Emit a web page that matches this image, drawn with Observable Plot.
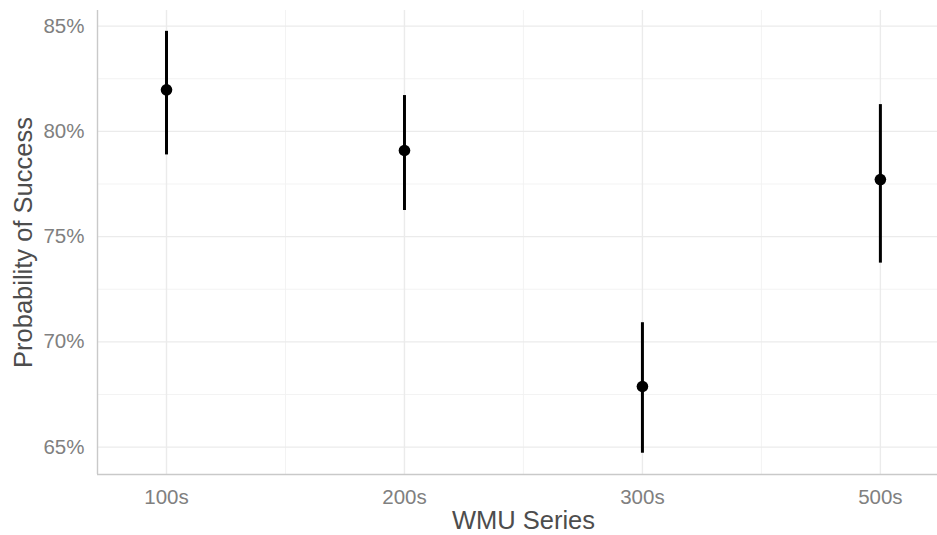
<!DOCTYPE html>
<html>
<head>
<meta charset="utf-8">
<script src="https://cdn.jsdelivr.net/npm/d3@7"></script>
<script src="https://cdn.jsdelivr.net/npm/@observablehq/plot@0.6"></script>
<style>
  html, body { margin: 0; padding: 0; background: #fff; }
  #chart svg { display: block; }
</style>
</head>
<body>
<div id="chart"></div>
<script>
// Data
const categories = ["100s", "200s", "300s", "500s"];
const estimate = [81.97, 79.09, 67.88, 77.71];
const lower = [78.88, 76.24, 64.71, 73.74];
const upper = [84.75, 81.70, 70.91, 81.27];
const yTicks = [65, 70, 75, 80, 85];
const yMinor = [67.5, 72.5, 77.5, 82.5];
const xTicks = [0, 1, 2, 3];
const xMinor = [0.5, 1.5, 2.5];
const xDomain = [-0.29, 3.24];
const yDomain = [63.70, 85.74];

const data = categories.map((c, i) => ({i, cat: c, est: estimate[i], lo: lower[i], hi: upper[i]}));

const font = "Liberation Sans, Arial, sans-serif";

const chart = Plot.plot({
  width: 937,
  height: 535,
  marginLeft: 97,
  marginRight: 0,
  marginTop: 10,
  marginBottom: 61,
  style: {fontFamily: font, background: "#fff"},
  x: {type: "linear", domain: xDomain, axis: null},
  y: {domain: yDomain, axis: null},
  marks: [
    Plot.gridY(yMinor, {stroke: "#f2f2f2", strokeOpacity: 1, strokeWidth: 0.9}),
    Plot.gridX(xMinor, {stroke: "#f2f2f2", strokeOpacity: 1, strokeWidth: 0.9}),
    Plot.gridY(yTicks, {stroke: "#ebebeb", strokeOpacity: 1, strokeWidth: 1.4}),
    Plot.gridX(xTicks, {stroke: "#ebebeb", strokeOpacity: 1, strokeWidth: 1.4}),
    Plot.ruleX([xDomain[0]], {stroke: "#c9c9c9", strokeWidth: 1.4}),
    Plot.ruleY([yDomain[0]], {stroke: "#c9c9c9", strokeWidth: 1.4}),
    Plot.ruleX(data, {x: "i", y1: "lo", y2: "hi", stroke: "#000", strokeWidth: 3}),
    Plot.dot(data, {x: "i", y: "est", r: 5.8, fill: "#000", stroke: "none"}),
    Plot.axisY(yTicks, {
      tickSize: 0, tickPadding: 13, label: null,
      tickFormat: d => d + "%", fontSize: 20.5, color: "#808080"
    }),
    Plot.axisX(xTicks, {
      tickSize: 0, tickPadding: 15, label: null,
      tickFormat: i => categories[i], fontSize: 20.5, color: "#808080"
    }),
    Plot.text(["Probability of Success"], {
      frameAnchor: "left", textAnchor: "middle", rotate: -90, dx: -74, fontSize: 25.5, fill: "#4d4d4d"
    }),
    Plot.text(["WMU Series"], {
      frameAnchor: "bottom", textAnchor: "middle", dx: 6, dy: 54, fontSize: 25.5, fill: "#4d4d4d"
    })
  ]
});
document.getElementById("chart").appendChild(chart);
</script>
</body>
</html>
